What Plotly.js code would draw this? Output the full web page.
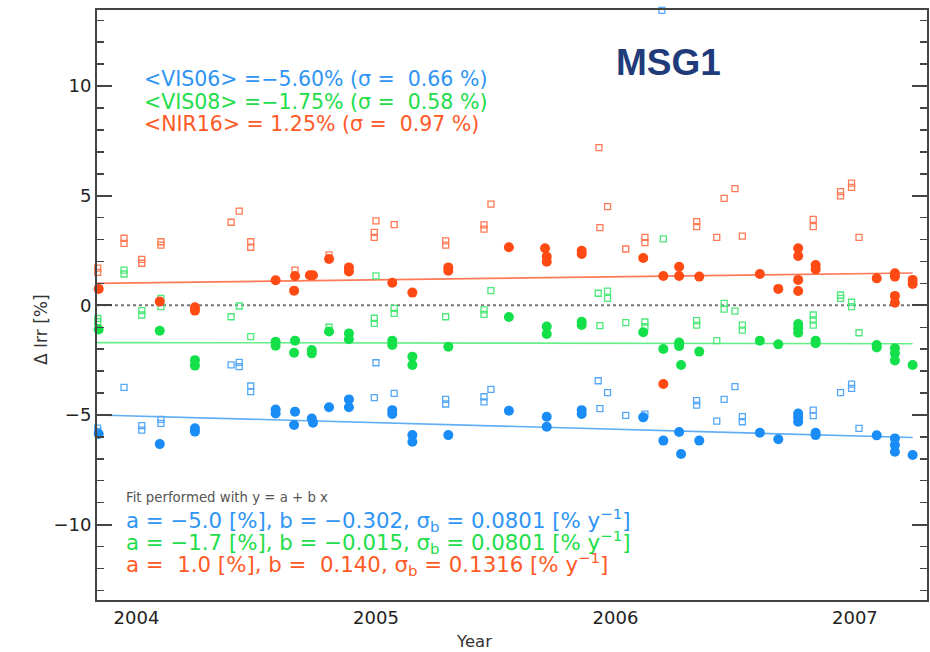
<!DOCTYPE html>
<html>
<head>
<meta charset="utf-8">
<script src="https://cdn.plot.ly/plotly-3.0.1.min.js"></script>
<style>html,body{margin:0;padding:0;background:#fff;}#chart{width:930px;height:652px;}</style>
</head>
<body>
<div id="chart"></div>
<script>
// ---------------- data ----------------
var channels = ["VIS06", "VIS08", "NIR16"];
var meanVal  = [-5.60, -1.75, 1.25];
var sigmaVal = [0.66, 0.58, 0.97];
var fitA     = [-5.0, -1.7, 1.0];
var fitB     = [-0.302, -0.015, 0.140];
var fitSigB  = [0.0801, 0.0801, 0.1316];
var xTickVals = [2004, 2005, 2006, 2007];
var xTickText = ["2004", "2005", "2006", "2007"];
var fitStart = 2003.835, fitEnd = 2007.241;

var vis06CircX = [2003.842,2004.097,2004.244,2004.244,2004.581,2004.581,2004.662,2004.658,2004.732,2004.737,2004.804,2004.887,2004.887,2005.068,2005.068,2005.152,2005.152,2005.302,2005.555,2005.713,2005.713,2005.859,2005.859,2006.116,2006.200,2006.266,2006.274,2006.350,2006.603,2006.680,2006.763,2006.763,2006.763,2006.836,2006.836,2007.091,2007.167,2007.167,2007.167,2007.241];
var vis06CircY = [-5.87,-6.33,-5.61,-5.76,-4.75,-4.93,-4.85,-5.46,-5.16,-5.35,-4.65,-4.29,-4.65,-4.78,-4.96,-5.92,-6.22,-5.92,-4.81,-5.08,-5.54,-4.78,-4.96,-5.11,-6.17,-5.78,-6.78,-6.17,-5.81,-6.11,-4.93,-5.11,-5.31,-5.81,-5.92,-5.93,-6.07,-6.37,-6.68,-6.83];
var vis06SqX = [2003.838,2003.838,2003.948,2004.022,2004.022,2004.102,2004.102,2004.395,2004.429,2004.429,2004.477,2004.477,2004.993,2005.000,2005.076,2005.291,2005.291,2005.451,2005.451,2005.480,2005.928,2005.967,2005.935,2006.043,2006.123,2006.194,2006.339,2006.339,2006.423,2006.454,2006.499,2006.530,2006.530,2006.826,2006.826,2006.940,2006.986,2006.986,2007.017,2007.309];
var vis06SqY = [-5.60,-5.75,-3.74,-5.49,-5.69,-5.20,-5.38,-2.72,-2.60,-2.80,-3.68,-3.94,-4.21,-2.62,-4.02,-4.29,-4.50,-4.17,-4.40,-3.83,-3.44,-3.98,-4.71,-5.02,-4.96,13.45,-4.35,-4.55,-5.28,-4.29,-3.71,-5.08,-5.31,-4.78,-5.03,-3.98,-3.59,-3.79,-5.61,-5.99];

var vis08CircX = [2003.842,2004.097,2004.244,2004.244,2004.581,2004.581,2004.662,2004.658,2004.732,2004.732,2004.804,2004.887,2004.887,2005.068,2005.068,2005.152,2005.152,2005.302,2005.555,2005.713,2005.713,2005.859,2005.859,2006.116,2006.200,2006.266,2006.266,2006.274,2006.350,2006.603,2006.680,2006.763,2006.763,2006.763,2006.836,2006.836,2007.091,2007.091,2007.167,2007.167,2007.167,2007.241];
var vis08CircY = [-1.10,-1.16,-2.50,-2.75,-1.66,-1.84,-1.61,-2.16,-2.04,-2.19,-1.19,-1.28,-1.55,-1.61,-1.81,-2.34,-2.72,-1.89,-0.53,-0.97,-1.31,-0.75,-0.90,-1.23,-1.99,-1.70,-1.86,-2.72,-2.11,-1.61,-1.78,-0.85,-1.05,-1.25,-1.61,-1.73,-1.81,-1.92,-1.96,-2.19,-2.52,-2.72];
var vis08SqX = [2003.838,2003.838,2003.948,2003.948,2004.022,2004.022,2004.102,2004.102,2004.395,2004.429,2004.477,2004.804,2004.993,2004.993,2005.000,2005.076,2005.076,2005.291,2005.451,2005.451,2005.480,2005.928,2005.967,2005.967,2005.935,2006.043,2006.123,2006.123,2006.200,2006.339,2006.339,2006.423,2006.454,2006.454,2006.499,2006.530,2006.530,2006.826,2006.826,2006.826,2006.940,2006.940,2006.986,2006.986,2007.017,2007.309];
var vis08SqY = [-0.60,-0.75,1.61,1.43,-0.24,-0.44,0.32,-0.06,-0.52,-0.03,-1.43,-1.00,-0.59,-0.82,1.34,-0.14,-0.37,-0.52,-0.21,-0.41,0.67,0.55,0.65,0.32,-0.93,-0.79,-0.76,-0.97,3.03,-0.70,-0.90,-1.61,0.09,-0.17,-0.26,-0.90,-1.13,-0.44,-0.67,-0.90,0.47,0.32,0.14,-0.06,-1.25,-2.19];

var nir16CircX = [2003.842,2004.097,2004.244,2004.244,2004.581,2004.662,2004.658,2004.724,2004.737,2004.804,2004.887,2004.887,2005.068,2005.152,2005.302,2005.302,2005.555,2005.706,2005.713,2005.713,2005.859,2005.859,2006.116,2006.200,2006.200,2006.266,2006.266,2006.350,2006.603,2006.680,2006.763,2006.763,2006.763,2006.763,2006.836,2006.836,2007.091,2007.167,2007.167,2007.167,2007.167,2007.241,2007.241];
var nir16CircY = [0.75,0.17,-0.09,-0.24,1.14,1.34,0.67,1.37,1.37,2.11,1.73,1.54,1.03,0.58,1.73,1.58,2.65,2.60,2.22,1.99,2.49,2.34,2.16,1.34,-3.59,1.76,1.34,1.31,1.43,0.75,2.60,2.25,1.16,0.65,1.84,1.64,1.23,1.46,1.31,0.43,0.12,1.16,0.97];
var nir16SqX = [2003.838,2003.838,2003.948,2003.948,2004.022,2004.022,2004.102,2004.102,2004.395,2004.429,2004.477,2004.477,2004.662,2004.804,2004.993,2004.993,2005.000,2005.076,2005.291,2005.291,2005.451,2005.451,2005.480,2005.931,2005.967,2005.935,2006.043,2006.123,2006.123,2006.339,2006.339,2006.423,2006.454,2006.499,2006.530,2006.826,2006.826,2006.940,2006.940,2006.986,2006.986,2007.017,2007.309];
var nir16SqY = [1.70,1.50,3.06,2.83,2.10,1.92,2.90,2.75,3.79,4.30,2.90,2.65,1.61,2.30,3.33,3.10,3.85,3.68,2.94,2.75,3.67,3.48,4.62,7.19,4.50,3.54,2.57,3.10,2.86,3.82,3.59,3.10,4.88,5.32,3.16,3.92,3.59,5.19,4.99,5.57,5.38,3.10,2.49];

// ---------------- styles ----------------
var circColor = ["#1a8cf5", "#14e04a", "#ff4a14"];
var sqColor   = ["#55a8f5", "#4ee87a", "#ff7a55"];
var lineColor = ["#60aef5", "#66ee88", "#ff7a58"];
var textColor = ["#2f95f5", "#22dd4a", "#ff5a26"];
var FONT = "DejaVu Sans, Liberation Sans, sans-serif";

var circX = [vis06CircX, vis08CircX, nir16CircX];
var circY = [vis06CircY, vis08CircY, nir16CircY];
var sqX = [vis06SqX, vis08SqX, nir16SqX];
var sqY = [vis06SqY, vis08SqY, nir16SqY];

var traces = [];
traces.push({x:[fitStart, fitEnd], y:[0, 0], mode:"lines", type:"scatter",
  line:{color:"#777", width:2, dash:"dot"}, hoverinfo:"skip", showlegend:false});
for (var i = 0; i < 3; i++) {
  traces.push({x:[fitStart, fitEnd], y:[fitA[i], fitA[i] + fitB[i]*(fitEnd - fitStart)],
    mode:"lines", type:"scatter", line:{color:lineColor[i], width:1.6}, showlegend:false});
}
for (var i = 0; i < 3; i++) {
  traces.push({x:sqX[i], y:sqY[i], mode:"markers", type:"scatter", cliponaxis:false,
    marker:{symbol:"square-open", size:6, color:sqColor[i], line:{width:1.3, color:sqColor[i]}}, showlegend:false});
}
for (var i = 0; i < 3; i++) {
  traces.push({x:circX[i], y:circY[i], mode:"markers", type:"scatter", cliponaxis:false,
    marker:{symbol:"circle", size:10, color:circColor[i], line:{width:0}}, showlegend:false});
}

function px2x(p){ return (p - 97) / 830; }
function py2y(p){ return (600 - p) / 590; }
var NB = "\u00a0";
function fmtSigned(v, d){ var s = Math.abs(v).toFixed(d); return (v < 0 ? "\u2212" : NB) + s; }

var anns = [];
var meanY = [79, 102, 124];
for (var i = 0; i < 3; i++) {
  var t = "&lt;" + channels[i] + "&gt;" + NB + "=" + (meanVal[i] < 0 ? "\u2212" + Math.abs(meanVal[i]).toFixed(2) : NB + meanVal[i].toFixed(2)) +
          "%" + NB + "(\u03c3" + NB + "=" + NB + NB + sigmaVal[i].toFixed(2) + NB + "%)";
  anns.push({xref:"paper", yref:"paper", x:px2x(142), y:py2y(meanY[i]), xanchor:"left", yanchor:"middle",
    text:t, showarrow:false, font:{family:FONT, size:20.5, color:textColor[i]}});
}
anns.push({xref:"paper", yref:"paper", x:px2x(124), y:py2y(497), xanchor:"left", yanchor:"middle",
  text:"Fit performed with y = a + b x", showarrow:false, font:{family:FONT, size:13.3, color:"#555"}});
var fitY = [520, 542, 564];
for (var i = 0; i < 3; i++) {
  var t = "a" + NB + "=" + NB + fmtSigned(fitA[i], 1) + NB + "[%],"+ NB + "b" + NB + "=" + NB + fmtSigned(fitB[i], 3) + "," + NB +
          "\u03c3<sub>b</sub>" + NB + "=" + NB + fitSigB[i].toFixed(4) + NB + "[%" + NB + "y<sup>\u22121</sup>]";
  anns.push({xref:"paper", yref:"paper", x:px2x(124), y:py2y(fitY[i]), xanchor:"left", yanchor:"middle",
    text:t, showarrow:false, font:{family:FONT, size:21.3, color:textColor[i]}});
}
anns.push({xref:"paper", yref:"paper", x:px2x(668), y:py2y(62), xanchor:"center", yanchor:"middle",
  text:"<b>MSG1</b>", showarrow:false, font:{family:"Liberation Sans, Arial, sans-serif", size:37, color:"#1f3b7a"}});
anns.push({xref:"paper", yref:"paper", x:px2x(41), y:py2y(330), xanchor:"center", yanchor:"middle", textangle:-90,
  text:"\u0394 Irr [%]", showarrow:false, font:{family:FONT, size:17, color:"#333"}});
anns.push({xref:"paper", yref:"paper", x:px2x(474), y:py2y(641), xanchor:"center", yanchor:"middle",
  text:"Year", showarrow:false, font:{family:FONT, size:16.5, color:"#333"}});

var layout = {
  width:930, height:652,
  margin:{l:97, r:3, t:10, b:52, pad:0},
  paper_bgcolor:"#fff", plot_bgcolor:"#fff",
  showlegend:false,
  xaxis:{range:[2003.835, 2007.301], showline:true, linecolor:"#444", linewidth:2, mirror:true,
    ticks:"", tickvals:xTickVals, ticktext:xTickText, showgrid:false, zeroline:false,
    tickfont:{family:FONT, size:18, color:"#222"}},
  yaxis:{range:[-13.44, 13.47], tick0:0, dtick:5, ticks:"inside", ticklen:15, tickwidth:2, tickcolor:"#444",
    minor:{dtick:1, ticks:"inside", ticklen:7, tickwidth:1.5, tickcolor:"#444"},
    showline:true, linecolor:"#444", linewidth:2, mirror:"ticks", showgrid:false, zeroline:false,
    tickfont:{family:FONT, size:18, color:"#222"}},
  annotations:anns
};
Plotly.newPlot("chart", traces, layout, {displayModeBar:false, staticPlot:true});
</script>
</body>
</html>
